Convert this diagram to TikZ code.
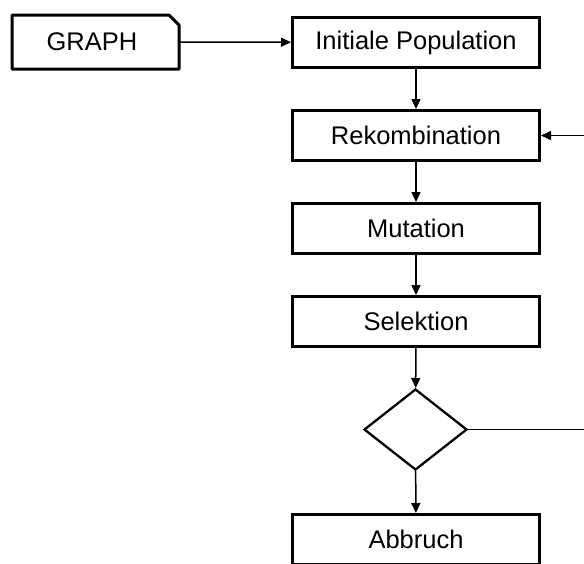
\documentclass[tikz,border=0pt]{standalone}
\usepackage{fontspec}
\setmainfont{Liberation Sans}
\usetikzlibrary{arrows.meta,shapes.geometric}
\begin{document}
\begin{tikzpicture}[x=1pt,y=-1pt,
  font=\fontsize{25.5}{30}\selectfont,
  procbox/.style={draw,line width=3pt,minimum width=247pt,minimum height=50pt,inner sep=0pt},
  conn/.style={line width=1.5pt,-{Triangle[length=10pt,width=9pt]}}]
\useasboundingbox (0,0) rectangle (584,563);
\node[minimum width=164pt,minimum height=51pt,inner sep=0pt,outer sep=1.5pt] (graph) at (95.5,42) {};
\draw[line width=3pt,line join=round]
  (graph.south west) -- (graph.north west) -- ([xshift=-10pt]graph.north east)
  -- ([yshift=-10pt]graph.north east) -- (graph.south east) -- cycle;
\node at (92,42) {GRAPH};
\node[procbox] (init) at (416,42.5) {Initiale Population};
\node[procbox] (reko) at (416,135.5) {Rekombination};
\node[procbox] (mut) at (416,228.5) {Mutation};
\node[procbox] (sel) at (416,321.5) {Selektion};
\node[draw,diamond,line width=2.3pt,minimum width=103pt,minimum height=81pt,inner sep=0pt] (dia) at (415.5,429.5) {};
\node[procbox] (abb) at (416,539.5) {Abbruch};
\coordinate (fr) at (600,429.5);
\draw[conn] (graph.east) -- (init);
\draw[conn] (init) -- (reko);
\draw[conn] (reko) -- (mut);
\draw[conn] (mut) -- (sel);
\draw[conn] (sel) -- (dia);
\draw[conn] (dia) -- (abb);
\draw[conn] (dia.east) -- (fr) |- (reko.east);
\end{tikzpicture}
\end{document}
